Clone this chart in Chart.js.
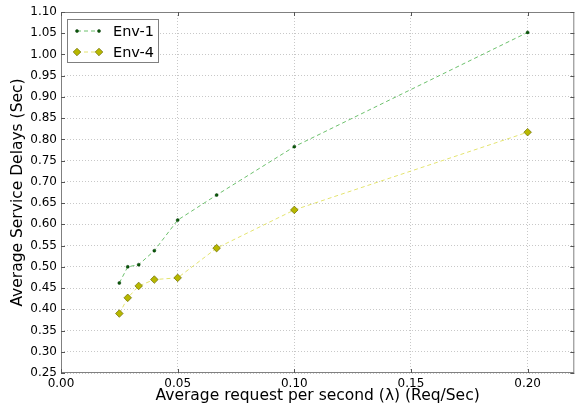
<!DOCTYPE html>
<html><head><meta charset="utf-8">
<script src="https://cdn.jsdelivr.net/npm/chart.js@4/dist/chart.umd.min.js"></script>
<style>html,body{margin:0;padding:0;background:#fff}#w{width:579px;height:408px}</style>
</head><body><div id="w"><canvas id="c" width="579" height="408"></canvas></div>
<script>
const seriesNames = ["Env-1", "Env-4"];
const xValues = [0.025, 0.0286, 0.0333, 0.04, 0.05, 0.0667, 0.1, 0.2];
const env1 = [0.462, 0.500, 0.505, 0.538, 0.610, 0.669, 0.783, 1.052];
const env4 = [0.390, 0.427, 0.455, 0.470, 0.474, 0.544, 0.634, 0.817];
const xTicks = [0.00, 0.05, 0.10, 0.15, 0.20];
const yTicks = [0.25,0.30,0.35,0.40,0.45,0.50,0.55,0.60,0.65,0.70,0.75,0.80,0.85,0.90,0.95,1.00,1.05,1.10];
const xTitle = "Average request per second (λ) (Req/Sec)";
const yTitle = "Average Service Delays (Sec)";

const FONT = "'DejaVu Sans', sans-serif";
const pts = (ys) => xValues.map((x, i) => ({x: x, y: ys[i]}));

const frame = {
  id: 'frame',
  afterDraw(chart) {
    const {ctx, chartArea: a, scales} = chart;
    ctx.save();
    ctx.strokeStyle = '#808080'; ctx.lineWidth = 1; ctx.setLineDash([]);
    ctx.strokeRect(a.left + 0.5, a.top + 0.5, a.right - a.left - 1, a.bottom - a.top - 1);
    ctx.strokeStyle = '#555';
    ctx.beginPath();
    xTicks.forEach(v => { const px = Math.round(scales.x.getPixelForValue(v)) + 0.5;
      ctx.moveTo(px, a.bottom); ctx.lineTo(px, a.bottom - 4);
      ctx.moveTo(px, a.top); ctx.lineTo(px, a.top + 4); });
    yTicks.forEach(v => { const py = Math.round(scales.y.getPixelForValue(v)) + 0.5;
      ctx.moveTo(a.left, py); ctx.lineTo(a.left + 4, py);
      ctx.moveTo(a.right, py); ctx.lineTo(a.right - 4, py); });
    ctx.stroke();
    const lx = a.left + 6, ly = a.top + 7, lw = 91, lh = 43;
    ctx.fillStyle = '#fff'; ctx.fillRect(lx, ly, lw, lh);
    ctx.strokeStyle = '#7f7f7f'; ctx.strokeRect(lx + 0.5, ly + 0.5, lw, lh);
    chart.data.datasets.forEach((ds, i) => {
      const yy = ly + 12 + i * 21;
      ctx.strokeStyle = ds.borderColor; ctx.lineWidth = 1; ctx.setLineDash(ds.borderDash);
      ctx.beginPath(); ctx.moveTo(lx + 10, yy); ctx.lineTo(lx + 32, yy); ctx.stroke();
      ctx.setLineDash([]);
      const po = {pointStyle: ds.pointStyle, radius: ds.pointRadius, borderWidth: ds.pointBorderWidth, rotation: 0};
      ctx.fillStyle = ds.pointBackgroundColor; ctx.strokeStyle = ds.pointBorderColor; ctx.lineWidth = ds.pointBorderWidth;
      Chart.helpers.drawPoint(ctx, po, lx + 10, yy);
      ctx.fillStyle = ds.pointBackgroundColor; ctx.strokeStyle = ds.pointBorderColor;
      Chart.helpers.drawPoint(ctx, po, lx + 32, yy);
      ctx.fillStyle = '#000'; ctx.font = '14.5px ' + FONT; ctx.textBaseline = 'middle'; ctx.textAlign = 'left';
      ctx.fillText(ds.label, lx + 46, yy + 1);
    });
    ctx.restore();
  }
};

new Chart(document.getElementById('c'), {
  type: 'scatter',
  data: {
    datasets: [
      {label: seriesNames[0], data: pts(env1), showLine: true, borderColor: '#6cc06c', borderWidth: 1, borderDash: [4, 3],
       pointStyle: 'circle', pointRadius: 1.5, pointBorderWidth: 0.5, pointBackgroundColor: '#0a5a0a', pointBorderColor: '#003300'},
      {label: seriesNames[1], data: pts(env4), showLine: true, borderColor: '#e4e470', borderWidth: 1, borderDash: [4, 3],
       pointStyle: 'rectRot', pointRadius: 3.8, pointBorderWidth: 0.7, pointBackgroundColor: '#b8b800', pointBorderColor: '#6b6b00'}
    ]
  },
  options: {
    responsive: false, animation: false, devicePixelRatio: 1,
    layout: {padding: {left: 0, top: 12, right: 2, bottom: 0}},
    plugins: {legend: {display: false}, tooltip: {enabled: false}},
    scales: {
      x: {
        type: 'linear', min: 0, max: 0.22,
        afterBuildTicks: s => { s.ticks = xTicks.map(v => ({value: v})); },
        afterFit: s => { s.height = 35; },
        grid: {color: '#c8c8c8', drawTicks: false, lineWidth: 1},
        border: {display: false, dash: [1, 2]},
        ticks: {color: '#000', font: {family: FONT, size: 12}, padding: 4, maxRotation: 0,
                callback: v => Number(v).toFixed(2)},
        title: {display: true, text: xTitle, color: '#000', font: {family: FONT, size: 15.5}, padding: {top: 0, bottom: 3}}
      },
      y: {
        type: 'linear', min: 0.25, max: 1.10,
        afterBuildTicks: s => { s.ticks = yTicks.map(v => ({value: v})); },
        afterFit: s => { s.width = 61; },
        grid: {color: '#c8c8c8', drawTicks: false, lineWidth: 1},
        border: {display: false, dash: [1, 2]},
        ticks: {color: '#000', font: {family: FONT, size: 12}, padding: 4,
                callback: v => Number(v).toFixed(2)},
        title: {display: true, text: yTitle, color: '#000', font: {family: FONT, size: 15.5}, padding: {top: 9, bottom: 0}}
      }
    }
  },
  plugins: [frame]
});
</script></body></html>
